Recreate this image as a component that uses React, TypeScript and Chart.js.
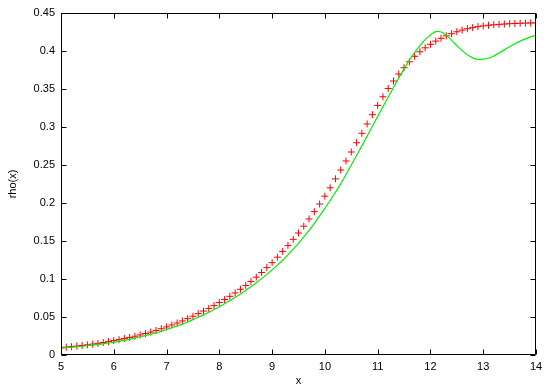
import React, { useEffect, useRef } from 'react';
import { Chart, registerables } from 'chart.js';

Chart.register(...registerables);

const xRed = [
  5.0, 5.1, 5.2, 5.3, 5.4, 5.5, 5.6, 5.7, 5.8, 5.9,
  6.0, 6.1, 6.2, 6.3, 6.4, 6.5, 6.6, 6.7, 6.8, 6.9,
  7.0, 7.1, 7.2, 7.3, 7.4, 7.5, 7.6, 7.7, 7.8, 7.9,
  8.0, 8.1, 8.2, 8.3, 8.4, 8.5, 8.6, 8.7, 8.8, 8.9,
  9.0, 9.1, 9.2, 9.3, 9.4, 9.5, 9.6, 9.7, 9.8, 9.9,
  10.0, 10.1, 10.2, 10.3, 10.4, 10.5, 10.6, 10.7, 10.8, 10.9,
  11.0, 11.1, 11.2, 11.3, 11.4, 11.5, 11.6, 11.7, 11.8, 11.9,
  12.0, 12.1, 12.2, 12.3, 12.4, 12.5, 12.6, 12.7, 12.8, 12.9,
  13.0, 13.1, 13.2, 13.3, 13.4, 13.5, 13.6, 13.7, 13.8, 13.9,
  14.0,
];

const rhoRed = [
  0.0096, 0.0103, 0.0110, 0.0117, 0.0125, 0.0134, 0.0143, 0.0153, 0.0164, 0.0176,
  0.0189, 0.0202, 0.0216, 0.0231, 0.0247, 0.0264, 0.0282, 0.0302, 0.0323, 0.0346,
  0.0370, 0.0395, 0.0421, 0.0448, 0.0478, 0.0510, 0.0544, 0.0578, 0.0613, 0.0650,
  0.0690, 0.0730, 0.0772, 0.0817, 0.0865, 0.0915, 0.0968, 0.1024, 0.1085, 0.1150,
  0.1215, 0.1287, 0.1363, 0.1442, 0.1522, 0.1605, 0.1695, 0.1790, 0.1886, 0.1987,
  0.2090, 0.2200, 0.2318, 0.2434, 0.2553, 0.2671, 0.2793, 0.2917, 0.3040, 0.3162,
  0.3284, 0.3398, 0.3506, 0.3605, 0.3697, 0.3780, 0.3858, 0.3930, 0.3990, 0.4042,
  0.4088, 0.4130, 0.4167, 0.4200, 0.4228, 0.4253, 0.4275, 0.4293, 0.4308, 0.4320,
  0.4330, 0.4338, 0.4345, 0.4350, 0.4355, 0.4359, 0.4362, 0.4365, 0.4367, 0.4369,
  0.4370,
];

const xGreen = [
  5.0, 5.1, 5.2, 5.3, 5.4, 5.5, 5.6, 5.7, 5.8, 5.9,
  6.0, 6.1, 6.2, 6.3, 6.4, 6.5, 6.6, 6.7, 6.8, 6.9,
  7.0, 7.1, 7.2, 7.3, 7.4, 7.5, 7.6, 7.7, 7.8, 7.9,
  8.0, 8.1, 8.2, 8.3, 8.4, 8.5, 8.6, 8.7, 8.8, 8.9,
  9.0, 9.1, 9.2, 9.3, 9.4, 9.5, 9.6, 9.7, 9.8, 9.9,
  10.0, 10.1, 10.2, 10.3, 10.4, 10.5, 10.6, 10.7, 10.8, 10.9,
  11.0, 11.1, 11.2, 11.3, 11.4, 11.5, 11.6, 11.7, 11.8, 11.9,
  12.0, 12.05, 12.1, 12.15, 12.2, 12.25, 12.3, 12.4, 12.5, 12.6, 12.7, 12.8, 12.9,
  13.0, 13.1, 13.2, 13.3, 13.4, 13.5, 13.6, 13.7, 13.8, 13.9,
  14.0,
];

const rhoGreen = [
  0.0090, 0.0096, 0.0102, 0.0109, 0.0115, 0.0122, 0.0130, 0.0139, 0.0148, 0.0158,
  0.0168, 0.0180, 0.0193, 0.0207, 0.0222, 0.0238, 0.0255, 0.0273, 0.0292, 0.0313,
  0.0335, 0.0358, 0.0382, 0.0407, 0.0435, 0.0465, 0.0496, 0.0528, 0.0562, 0.0598,
  0.0636, 0.0675, 0.0716, 0.0759, 0.0803, 0.0850, 0.0900, 0.0951, 0.1005, 0.1061,
  0.1120, 0.1182, 0.1247, 0.1318, 0.1392, 0.1470, 0.1555, 0.1640, 0.1733, 0.1830,
  0.1930, 0.2035, 0.2142, 0.2252, 0.2375, 0.2500, 0.2625, 0.2752, 0.2880, 0.3010,
  0.3140, 0.3268, 0.3395, 0.3520, 0.3645, 0.3765, 0.3878, 0.3980, 0.4070, 0.4150,
  0.4210, 0.4238, 0.4255, 0.4258, 0.4250, 0.4232, 0.4205, 0.4140, 0.4070, 0.4005, 0.3950, 0.3910, 0.3890,
  0.3892, 0.3905, 0.3935, 0.3975, 0.4015, 0.4055, 0.4095, 0.4130, 0.4160, 0.4185,
  0.4205,
];

const xTicks = [5, 6, 7, 8, 9, 10, 11, 12, 13, 14];
const xTickLabels = ['5', '6', '7', '8', '9', '10', '11', '12', '13', '14'];
const yTicks = [0, 0.05, 0.1, 0.15, 0.2, 0.25, 0.3, 0.35, 0.4, 0.45];
const yTickLabels = ['0', '0.05', '0.1', '0.15', '0.2', '0.25', '0.3', '0.35', '0.4', '0.45'];

const FONT = '"Liberation Sans", Arial, Helvetica, sans-serif';

const framePlugin = {
  id: 'gnuFrame',
  afterDatasetsDraw(chart: any) {
    const { ctx, chartArea: a, scales } = chart;
    const xs = scales.x;
    const ys = scales.y;
    ctx.save();
    ctx.strokeStyle = '#000';
    ctx.lineWidth = 1;
    const L = Math.round(a.left) + 0.5;
    const R = Math.round(a.right) - 0.5;
    const T = Math.round(a.top) + 0.5;
    const B = Math.round(a.bottom) - 0.5;
    ctx.beginPath();
    ctx.rect(L, T, R - L, B - T);
    ctx.stroke();
    const tl = 5;
    ctx.beginPath();
    xTicks.forEach((v) => {
      const px = Math.round(xs.getPixelForValue(v)) + 0.5;
      ctx.moveTo(px, B);
      ctx.lineTo(px, B - tl);
      ctx.moveTo(px, T);
      ctx.lineTo(px, T + tl);
    });
    yTicks.forEach((v) => {
      const py = Math.round(ys.getPixelForValue(v)) + 0.5;
      ctx.moveTo(L, py);
      ctx.lineTo(L + tl, py);
      ctx.moveTo(R, py);
      ctx.lineTo(R - tl, py);
    });
    ctx.stroke();
    ctx.restore();
  },
};

export default function App() {
  const ref = useRef<HTMLCanvasElement | null>(null);

  useEffect(() => {
    document.body.style.margin = '0';
    const canvas = ref.current;
    if (!canvas) return;
    const redPts = xRed.map((x, i) => ({ x, y: rhoRed[i] }));
    const greenPts = xGreen.map((x, i) => ({ x, y: rhoGreen[i] }));
    const chart = new Chart(canvas, {
      type: 'scatter',
      data: {
        datasets: [
          {
            label: 'red',
            data: redPts,
            showLine: false,
            pointStyle: 'cross',
            pointRadius: 3.5,
            pointHoverRadius: 3.5,
            pointBorderWidth: 1,
            borderColor: 'rgb(255,0,0)',
            backgroundColor: 'rgb(255,0,0)',
            order: 2,
          },
          {
            label: 'green',
            data: greenPts,
            showLine: true,
            pointRadius: 0,
            borderColor: 'rgb(0,240,0)',
            borderWidth: 1.2,
            tension: 0.3,
            order: 1,
          },
        ],
      },
      options: {
        animation: false,
        responsive: false,
        maintainAspectRatio: false,
        events: [],
        layout: { padding: { left: 0, right: 18, top: 13, bottom: 0 } },
        plugins: {
          legend: { display: false },
          tooltip: { enabled: false },
        },
        scales: {
          x: {
            type: 'linear',
            min: 5,
            max: 14,
            afterBuildTicks: (s: any) => {
              s.ticks = xTicks.map((v) => ({ value: v }));
            },
            afterFit: (s: any) => {
              s.height = 33;
            },
            ticks: {
              autoSkip: false,
              maxRotation: 0,
              padding: 5,
              color: '#000',
              font: { family: FONT, size: 11 },
              callback: (_v: any, i: number) => xTickLabels[i],
            },
            grid: { display: false, drawTicks: false },
            border: { display: false },
            title: {
              display: true,
              text: 'x',
              color: '#000',
              font: { family: FONT, size: 11 },
              padding: { top: 0, bottom: 0 },
            },
          },
          y: {
            type: 'linear',
            min: 0,
            max: 0.45,
            afterBuildTicks: (s: any) => {
              s.ticks = yTicks.map((v) => ({ value: v }));
            },
            afterFit: (s: any) => {
              s.width = 61;
            },
            ticks: {
              autoSkip: false,
              padding: 6,
              color: '#000',
              font: { family: FONT, size: 11 },
              callback: (_v: any, i: number) => yTickLabels[i],
            },
            grid: { display: false, drawTicks: false },
            border: { display: false },
            title: {
              display: true,
              text: 'rho(x)',
              color: '#000',
              font: { family: FONT, size: 11 },
              padding: { top: 6, bottom: 0 },
            },
          },
        },
      },
      plugins: [framePlugin],
    });
    return () => chart.destroy();
  }, []);

  return (
    <div style={{ position: 'fixed', left: 0, top: 0, width: 554, height: 388, background: '#fff' }}>
      <canvas ref={ref} width={554} height={388} style={{ width: 554, height: 388, display: 'block' }} />
    </div>
  );
}
